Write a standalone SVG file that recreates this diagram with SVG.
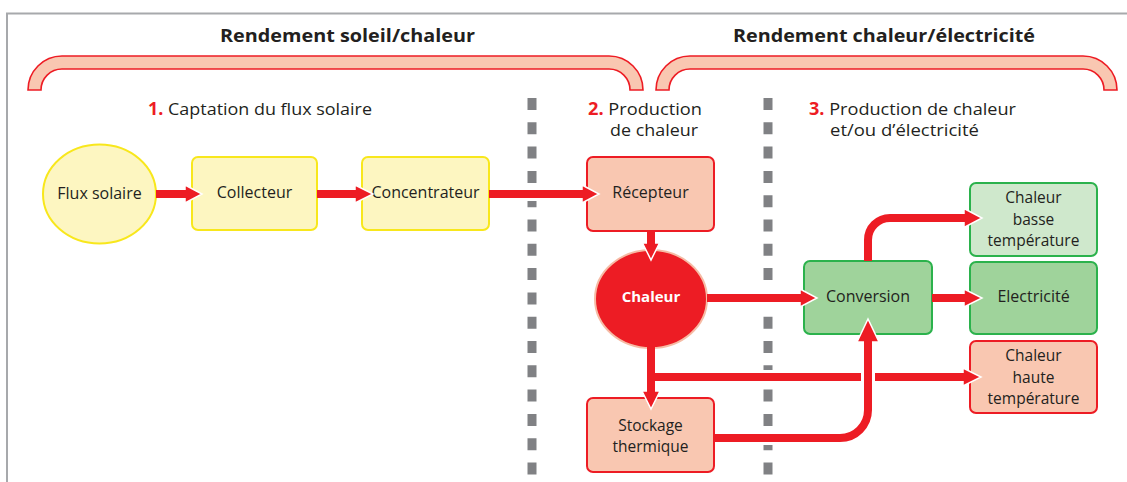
<svg xmlns="http://www.w3.org/2000/svg" width="1127" height="482" viewBox="0 0 1127 482">
<defs>
<style>
.t{font-family:'Open Sans','Liberation Sans',sans-serif;fill:#231f20}
.lbl{font-size:16px;text-anchor:middle}
.ml{font-size:15.5px}
.ttl{font-size:18.5px;font-weight:bold}
.sec{font-size:17px}
.num{fill:#ed1c24;font-weight:bold}
.yel{fill:#fdf6c1;stroke:#f8e71c;stroke-width:2}
.sal{fill:#f9c7b1;stroke:#ed1c24;stroke-width:2}
.gl{fill:#cfe8cc;stroke:#2bb24c;stroke-width:2}
.gm{fill:#9fd39b;stroke:#2bb24c;stroke-width:2}
.brk{fill:#f9c7b1;stroke:#ed1c24;stroke-width:1.6}
.dash{stroke:#808184;stroke-width:9;stroke-dasharray:12 12.3}
.shaft{fill:none;stroke:#ed1c24;stroke-width:8}
.halo{fill:none;stroke:#fff;stroke-width:14}
.head{fill:#ed1c24;stroke:#fff;stroke-width:1.5}
</style>
</defs>
<rect width="1127" height="482" fill="#fff"/>
<path d="M7 482 V13.5 H1127" fill="none" stroke="#a7a9ac" stroke-width="2"/>
<g id="brackets">
<path class="brk" d="M28 90 A34 34 0 0 1 62 56 L609 56 A34 34 0 0 1 643 90 L630 90 A21 21 0 0 0 609 69 L62 69 A21 21 0 0 0 41 90 Z"/>
<path class="brk" d="M656 90 A34 34 0 0 1 690 56 L1083 56 A34 34 0 0 1 1117 90 L1104 90 A21 21 0 0 0 1083 69 L690 69 A21 21 0 0 0 669 90 Z"/>
</g>
<g id="titles">
<text class="t ttl" x="220" y="42" textLength="255" lengthAdjust="spacingAndGlyphs">Rendement soleil/chaleur</text>
<text class="t ttl" x="733" y="42" textLength="302" lengthAdjust="spacingAndGlyphs">Rendement chaleur/électricité</text>
<text class="t sec" x="148" y="115" textLength="224" lengthAdjust="spacingAndGlyphs"><tspan class="num">1.</tspan> Captation du flux solaire</text>
<text class="t sec" x="588" y="115" textLength="114" lengthAdjust="spacingAndGlyphs"><tspan class="num">2.</tspan> Production</text>
<text class="t sec" x="610" y="136" textLength="88" lengthAdjust="spacingAndGlyphs">de chaleur</text>
<text class="t sec" x="809" y="115" textLength="207" lengthAdjust="spacingAndGlyphs"><tspan class="num">3.</tspan> Production de chaleur</text>
<text class="t sec" x="830" y="136" textLength="149" lengthAdjust="spacingAndGlyphs">et/ou d’électricité</text>
</g>
<g id="separators">
<line class="dash" x1="532" y1="98" x2="532" y2="475"/>
<line class="dash" x1="768" y1="98" x2="768" y2="475"/>
</g>
<g id="flux-solaire">
<ellipse class="yel" cx="99.5" cy="194" rx="56.5" ry="49.5"/>
<text class="t lbl" x="99.5" y="199">Flux solaire</text>
</g>
<g id="collecteur">
<rect class="yel" x="192" y="157" width="125" height="73" rx="6"/>
<text class="t lbl" x="254.5" y="198">Collecteur</text>
</g>
<g id="concentrateur">
<rect class="yel" x="362" y="157" width="127" height="73" rx="6"/>
<text class="t lbl" x="425.5" y="198">Concentrateur</text>
</g>
<g id="recepteur">
<rect class="sal" x="587" y="157" width="127" height="74" rx="6"/>
<text class="t lbl" x="650.5" y="198">Récepteur</text>
</g>
<g id="chaleur">
<ellipse cx="651" cy="299" rx="56" ry="49" fill="#ed1c24" stroke="#f6bba5" stroke-width="2"/>
<text class="t lbl" x="651" y="302" style="fill:#fff;font-weight:bold;font-size:15px">Chaleur</text>
</g>
<g id="stockage">
<rect class="sal" x="587" y="398" width="127" height="74" rx="6"/>
<text class="t lbl ml" x="650.5" y="431">Stockage</text>
<text class="t lbl ml" x="650.5" y="452.3">thermique</text>
</g>
<g id="conversion">
<rect class="gm" x="804" y="261" width="128" height="73" rx="6"/>
<text class="t lbl" x="868" y="302">Conversion</text>
</g>
<g id="chaleur-basse">
<rect class="gl" x="970" y="183" width="127" height="73" rx="6"/>
<text class="t lbl ml" x="1033.5" y="203.2">Chaleur</text>
<text class="t lbl ml" x="1033.5" y="224.5">basse</text>
<text class="t lbl ml" x="1033.5" y="245.8">température</text>
</g>
<g id="electricite">
<rect class="gm" x="970" y="262" width="127" height="72" rx="6"/>
<text class="t lbl" x="1033.5" y="302">Electricité</text>
</g>
<g id="chaleur-haute">
<rect class="sal" x="970" y="341" width="127" height="72" rx="6"/>
<text class="t lbl ml" x="1033.5" y="361.2">Chaleur</text>
<text class="t lbl ml" x="1033.5" y="382.5">haute</text>
<text class="t lbl ml" x="1033.5" y="403.8">température</text>
</g>
<g id="connectors">
<polygon class="head" points="185,185 202,194 185,203"/>
<path class="shaft" d="M156 194 H187"/>
<polygon class="head" points="355,185 373,194 355,203"/>
<path class="shaft" d="M317 194 H357"/>
<path class="halo" d="M500 194 H575"/>
<polygon class="head" points="582,185 599,194 582,203"/>
<path class="shaft" d="M489 194 H584"/>
<polygon class="head" points="642.5,243 651,260 659.5,243"/>
<path class="shaft" d="M651 231 V245"/>
<path class="halo" d="M720 298 H795"/>
<polygon class="head" points="800,289 817,298 800,307"/>
<path class="shaft" d="M707 298 H802"/>
<polygon class="head" points="964,289 982,298 964,307"/>
<path class="shaft" d="M932 298 H966"/>
<polygon class="head" points="964,208.5 982,218 964,227.5"/>
<path class="shaft" d="M868 261 V240 A22 22 0 0 1 890 218 H966"/>
<polygon class="head" points="642,391 651,409 660,391"/>
<path class="shaft" d="M651 347 V393"/>
<path class="halo" d="M700 377 H955"/>
<polygon class="head" points="963,368 981,377 963,386"/>
<path class="shaft" d="M647 377 H965"/>
<path class="halo" d="M725 438 H840 A28 28 0 0 0 868 410 V346"/>
<polygon class="head" points="857,342 868,319 879,342"/>
<path class="shaft" d="M714 438 H840 A28 28 0 0 0 868 410 V340"/>
</g>
</svg>
